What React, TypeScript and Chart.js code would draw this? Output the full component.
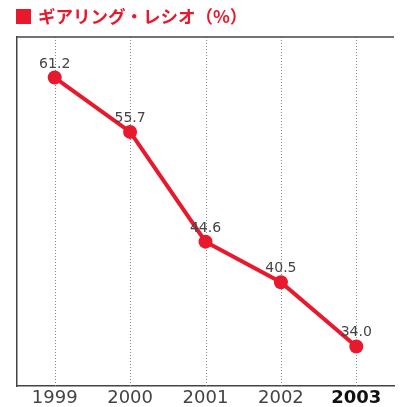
import React, { useEffect, useRef } from "react";
import { Chart, registerables } from "chart.js";

Chart.register(...registerables);

const categories = ["1999", "2000", "2001", "2002", "2003"];
const gearingRatio = [61.2, 55.7, 44.6, 40.5, 34.0];
const valueLabels = ["61.2", "55.7", "44.6", "40.5", "34.0"];
const titleText = "ギアリング・レシオ（%）";

const RED = "#e8192c";

const decorPlugin = {
  id: "decor",
  beforeDatasetsDraw(chart: any) {
    const { ctx, chartArea, scales } = chart;
    const x = scales.x;
    ctx.save();
    ctx.strokeStyle = "#888";
    ctx.lineWidth = 1;
    ctx.setLineDash([1, 2]);
    for (let i = 0; i < categories.length; i++) {
      const px = Math.round(x.getPixelForValue(i)) + 0.5;
      ctx.beginPath();
      ctx.moveTo(px, chartArea.top);
      ctx.lineTo(px, chartArea.bottom);
      ctx.stroke();
    }
    ctx.setLineDash([]);
    ctx.strokeStyle = "#444";
    ctx.lineWidth = 1.5;
    ctx.beginPath();
    ctx.moveTo(chartArea.left, chartArea.top);
    ctx.lineTo(chartArea.right, chartArea.top);
    ctx.stroke();
    ctx.restore();
  },
  afterDatasetsDraw(chart: any) {
    const { ctx } = chart;
    const meta = chart.getDatasetMeta(0);
    ctx.save();
    ctx.fillStyle = "#444";
    ctx.font = "14px 'DejaVu Sans'";
    ctx.textAlign = "center";
    ctx.textBaseline = "alphabetic";
    meta.data.forEach((pt: any, i: number) => {
      ctx.fillText(valueLabels[i], pt.x, pt.y - 10);
    });
    ctx.restore();
  },
};

export default function App() {
  const ref = useRef<HTMLCanvasElement>(null);
  useEffect(() => {
    if (!ref.current) return;
    const chart = new Chart(ref.current, {
      type: "line",
      data: {
        labels: categories,
        datasets: [
          {
            data: gearingRatio,
            borderColor: RED,
            backgroundColor: RED,
            borderWidth: 4,
            pointRadius: 7,
            pointBackgroundColor: RED,
            pointBorderWidth: 0,
            tension: 0,
          },
        ],
      },
      options: {
        animation: false,
        responsive: true,
        maintainAspectRatio: false,
        layout: { padding: { top: 37, right: 6, left: 0, bottom: 0 } },
        plugins: { legend: { display: false }, tooltip: { enabled: false } },
        scales: {
          x: {
            offset: true,
            grid: { display: false, drawTicks: false },
            border: { display: true, color: "#444", width: 1.5 },
            ticks: {
              padding: 2,
              color: (c: any) => (c.index === 4 ? "#111" : "#444"),
              font: (c: any) =>
                c.index === 4
                  ? { family: "'DejaVu Sans'", size: 18, weight: "bold" }
                  : { family: "'DejaVu Sans'", size: 18, weight: "normal" },
            },
            afterFit: (s: any) => {
              s.height = 21;
            },
          },
          y: {
            min: 30,
            max: 65.3,
            grid: { display: false, drawTicks: false },
            border: { display: true, color: "#444", width: 1.5 },
            ticks: { display: false },
            afterFit: (s: any) => {
              s.width = 17;
            },
          },
        },
      },
      plugins: [decorPlugin],
    });
    return () => chart.destroy();
  }, []);
  return (
    <div style={{ position: "fixed", left: 0, top: 0, width: 401, height: 407, background: "#fff" }}>
      <div
        style={{
          position: "absolute",
          left: 16,
          top: 5,
          display: "flex",
          alignItems: "center",
          color: RED,
          fontFamily: "'Noto Sans CJK JP', sans-serif",
          fontWeight: "bold",
          fontSize: 17.5,
          lineHeight: "22px",
          zIndex: 1,
        }}
      >
        <span style={{ display: "inline-block", width: 15, height: 15, background: RED, marginRight: 7 }} />
        <span>{titleText}</span>
      </div>
      <canvas ref={ref} width={401} height={407} />
    </div>
  );
}
